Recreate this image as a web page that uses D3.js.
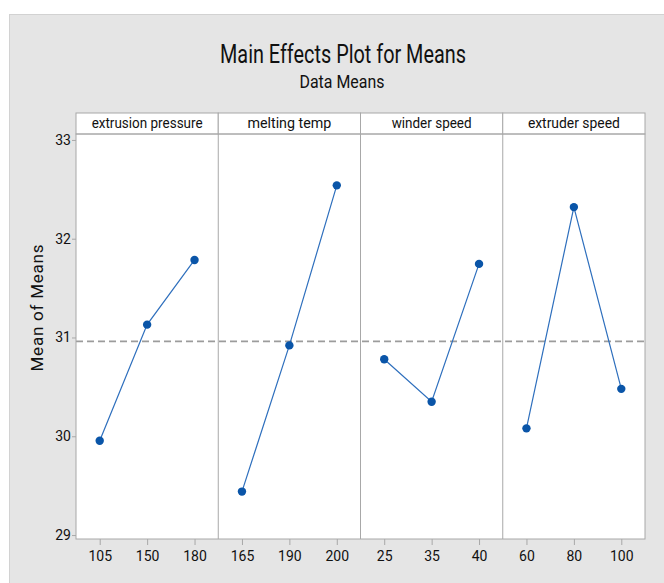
<!DOCTYPE html>
<html>
<head>
<meta charset="utf-8">
<script src="https://cdn.jsdelivr.net/npm/d3@7"></script>
<style>
  html, body { margin: 0; padding: 0; background: #fff; }
  svg { display: block; }
  text { font-family: Roboto, "Open Sans", sans-serif; fill: #111; }
</style>
</head>
<body>
<div id="chart"></div>
<script>
const factors = ['extrusion pressure', 'melting temp', 'winder speed', 'extruder speed'];
const levels = [
  ['105', '150', '180'],
  ['165', '190', '200'],
  ['25', '35', '40'],
  ['60', '80', '100']
];
const means = [
  [29.955, 31.13, 31.785],
  [29.44, 30.92, 32.54],
  [30.78, 30.35, 31.745],
  [30.08, 32.32, 30.48]
];
const yTicks = [29, 30, 31, 32, 33];

const stripWidths = [111, 84, 80, 92];

const width = 664, height = 583;
const margin = {top: 134, right: 19, bottom: 44, left: 76};
const stripH = 21;
const plotW = width - margin.left - margin.right;
const plotH = height - margin.top - margin.bottom;

const svg = d3.select('#chart')
  .append('svg')
  .attr('width', width)
  .attr('height', height);

// grey background panel
svg.append('rect')
  .attr('x', 9.5).attr('y', 14.5)
  .attr('width', 700).attr('height', 600)
  .attr('fill', '#e5e5e5')
  .attr('stroke', '#d2d2d2');

svg.append('text')
  .attr('x', 343).attr('y', 63)
  .attr('text-anchor', 'middle')
  .attr('textLength', 246)
  .attr('lengthAdjust', 'spacingAndGlyphs')
  .style('font-size', '25px')
  .text('Main Effects Plot for Means');

svg.append('text')
  .attr('x', 342).attr('y', 88)
  .attr('text-anchor', 'middle')
  .attr('textLength', 85)
  .attr('lengthAdjust', 'spacingAndGlyphs')
  .style('font-size', '18px')
  .text('Data Means');

const g = svg.append('g')
  .attr('transform', 'translate(' + margin.left + ',' + margin.top + ')');

const panel = d3.scaleBand()
  .domain(factors)
  .range([0, plotW]);

const y = d3.scaleLinear()
  .domain([28.96, 33.06])
  .range([plotH, 0]);

const grandMean = d3.mean(means.flat());

// plot background
g.append('rect')
  .attr('width', plotW).attr('height', plotH)
  .attr('fill', '#fff');

// strip headers
g.selectAll('.strip')
  .data(factors)
  .join('rect')
  .attr('class', 'strip')
  .attr('x', d => panel(d)).attr('y', -stripH)
  .attr('width', panel.bandwidth()).attr('height', stripH)
  .attr('fill', '#fff')
  .attr('stroke', '#a8a8a8');

g.selectAll('.strip-label')
  .data(factors)
  .join('text')
  .attr('class', 'strip-label')
  .attr('x', d => panel(d) + panel.bandwidth() / 2)
  .attr('y', -6)
  .attr('text-anchor', 'middle')
  .attr('textLength', (d, i) => stripWidths[i])
  .attr('lengthAdjust', 'spacingAndGlyphs')
  .style('font-size', '15px')
  .text(d => d);

// mean reference line
g.append('line')
  .attr('x1', 0).attr('x2', plotW)
  .attr('y1', y(grandMean)).attr('y2', y(grandMean))
  .attr('stroke', '#9c9c9c')
  .attr('stroke-width', 1.6)
  .attr('stroke-dasharray', '7,4');

factors.forEach((f, i) => {
  const x = d3.scalePoint()
    .domain(levels[i])
    .range([panel(f), panel(f) + panel.bandwidth()])
    .padding(0.5);

  const pts = levels[i].map((lv, j) => [lv, means[i][j]]);

  g.append('path')
    .datum(pts)
    .attr('fill', 'none')
    .attr('stroke', '#2e6fbd')
    .attr('stroke-width', 1.2)
    .attr('d', d3.line().x(d => x(d[0])).y(d => y(d[1])));

  g.selectAll('.pt' + i)
    .data(pts)
    .join('circle')
    .attr('class', 'pt' + i)
    .attr('cx', d => x(d[0]))
    .attr('cy', d => y(d[1]))
    .attr('r', 4.2)
    .attr('fill', '#0a55a8');

  const ax = g.append('g')
    .attr('transform', 'translate(0,' + plotH + ')')
    .call(d3.axisBottom(x).tickSize(6).tickSizeOuter(0));
  ax.select('.domain').remove();
  ax.selectAll('.tick line').attr('stroke', '#a8a8a8');
  ax.selectAll('.tick text')
    .attr('dy', 0)
    .attr('y', 22)
    .style('font-size', '14px')
    .attr('fill', '#111');
});

// panel dividers and frame
g.selectAll('.divider')
  .data(factors.slice(1))
  .join('line')
  .attr('class', 'divider')
  .attr('x1', d => panel(d)).attr('x2', d => panel(d))
  .attr('y1', 0).attr('y2', plotH)
  .attr('stroke', '#a8a8a8');

g.append('rect')
  .attr('width', plotW).attr('height', plotH)
  .attr('fill', 'none')
  .attr('stroke', '#a8a8a8');

const yAxis = g.append('g')
  .call(d3.axisLeft(y).tickValues(yTicks).tickSize(4).tickFormat(d3.format('d')));
yAxis.select('.domain').remove();
yAxis.selectAll('.tick line').attr('stroke', '#a8a8a8');
yAxis.selectAll('.tick text')
  .attr('x', -5)
  .style('font-size', '14px')
  .attr('fill', '#111');

svg.append('text')
  .attr('transform', 'translate(43,' + (margin.top + 174) + ') rotate(-90)')
  .attr('text-anchor', 'middle')
  .attr('textLength', 127)
  .attr('lengthAdjust', 'spacing')
  .style('font-size', '17px')
  .text('Mean of Means');
</script>
</body>
</html>
